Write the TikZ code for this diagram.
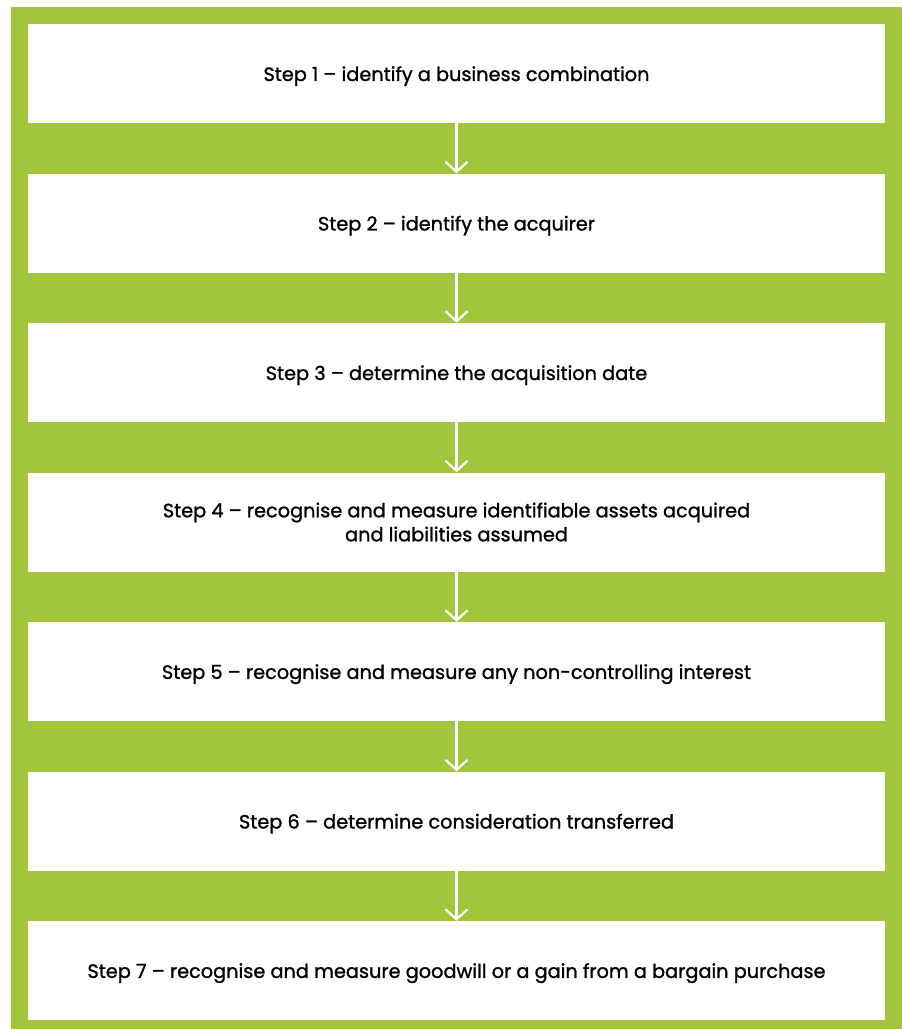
\documentclass[tikz,border=0pt]{standalone}
\usepackage{fontspec}
\setmainfont{Poppins}
\newfontfamily\stepfont{Poppins}[FakeBold=1.2]
\usetikzlibrary{arrows.meta}
\definecolor{leaf}{RGB}{161,197,59}

\tikzset{
  stepbox/.style={fill=white,minimum width=857pt,minimum height=99pt,
    inner sep=0pt,align=center,font=\fontsize{19.3}{24}\stepfont,
    execute at begin node={\rule{0pt}{20pt}}},
  flow/.style={draw=white,line width=2.2pt,-{Straight Barb[length=10pt,width=22pt,line width=2.2pt]}}
}

\begin{document}
\begin{tikzpicture}[x=1pt,y=-1pt]
  \useasboundingbox (0,0) rectangle (902,1029);
  \fill[leaf] (11,7) rectangle (902,1029);
  % the seven steps
  \node[stepbox] (s1) at (456.5,73.5) {Step 1 – identify a business combination};
  \node[stepbox] (s2) at (456.5,223) {Step 2 – identify the acquirer};
  \node[stepbox] (s3) at (456.5,372.5) {Step 3 – determine the acquisition date};
  \node[stepbox] (s4) at (456.5,522) {Step 4 – recognise and measure identifiable assets acquired\\and liabilities assumed};
  \node[stepbox] (s5) at (456.5,671.5) {Step 5 – recognise and measure any non-controlling interest};
  \node[stepbox] (s6) at (456.5,821) {Step 6 – determine consideration transferred};
  \node[stepbox] (s7) at (456.5,970.5) {Step 7 – recognise and measure goodwill or a gain from a bargain purchase};
  % arrows
  \foreach \a/\b in {s1/s2,s2/s3,s3/s4,s4/s5,s5/s6,s6/s7}
    \draw[flow] (\a.south) -- (\b.north);
\end{tikzpicture}
\end{document}
